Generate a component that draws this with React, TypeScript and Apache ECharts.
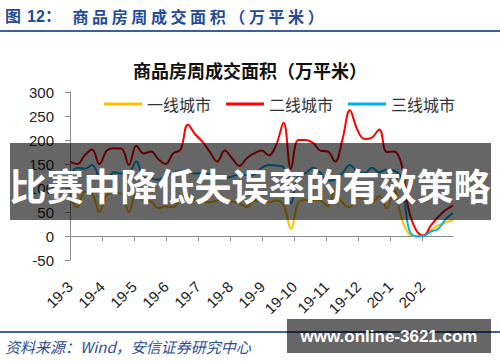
import { useEffect, useRef } from 'react';
import * as echarts from 'echarts';

const monthLabels = ['19-3', '19-4', '19-5', '19-6', '19-7', '19-8', '19-9', '19-10', '19-11', '19-12', '20-1', '20-2'];
const seriesNames = ['一线城市', '二线城市', '三线城市'];
const seriesColors = ['#FFC000', '#FF0000', '#00B0F0'];

// weekly transaction area (10k m2), one value per week from early Mar 2019
const tier1 = [78, 60, 92, 88, 50, 85, 90, 88, 50, 88, 76, 72, 58, 62, 60, 80, 85, 75, 72, 70, 74, 77, 72, 68, 60, 74, 72, 70, 74, 64, 15, 70, 75, 75, 74, 62, 94, 69, 60, 80, 75, 70, 84, 58, 95, 38, 5, 0, 1, 12, 22, 28, 33];
const tier2 = [155, 150, 168, 180, 150, 178, 183, 182, 148, 188, 172, 176, 160, 150, 172, 180, 232, 212, 196, 175, 155, 178, 162, 146, 162, 172, 178, 168, 190, 236, 140, 200, 200, 194, 178, 176, 155, 202, 262, 222, 202, 205, 222, 175, 176, 150, 54, 12, 1, 22, 40, 54, 64];
const tier3 = [125, 142, 140, 148, 125, 122, 133, 130, 132, 155, 122, 120, 117, 125, 131, 135, 133, 130, 131, 128, 118, 120, 124, 128, 127, 128, 142, 148, 147, 143, 68, 125, 131, 142, 131, 115, 118, 131, 148, 134, 131, 142, 133, 138, 136, 120, 15, -1, 0, 9, 15, 35, 48];

const headerPrefix = [
  { t: '图', x: 5 },
  { t: '12', x: 27 },
  { t: '：', x: 45 },
];
const headerMain = '商品房周成交面积（万平米）';
const chartTitle = '商品房周成交面积（万平米）';
const footerText = '资料来源：Wind，安信证券研究中心';
const bannerText = '比赛中降低失误率的有效策略';
const watermarkText = 'www.online-3621.com';

const WEEKS_PER_MONTH = 30.44 / 7;
const LATIN = "'Liberation Sans', Arial, 'Noto Sans CJK SC', sans-serif";
const CJK = "'Noto Sans CJK SC', 'Liberation Sans', sans-serif";

export default function App() {
  const ref = useRef<HTMLDivElement>(null);
  useEffect(() => {
    const chart = echarts.init(ref.current!, null, { renderer: 'svg' });
    const lastIdx = tier1.length - 1;
    const tickVals = monthLabels.map((_, k) => k * WEEKS_PER_MONTH);
    const toPairs = (arr: number[]) => arr.map((v, i) => [i, v]);
    const dataSets = [tier1, tier2, tier3];

    const headerBlue = '#244A9A';
    const graphics: any[] = [];
    headerPrefix.forEach((h) => {
      graphics.push({
        type: 'text', z: 100, x: h.x, y: 16,
        style: { text: h.t, fill: headerBlue, font: `bold 16px ${LATIN}`, verticalAlign: 'middle' },
      });
    });
    headerMain.split('').forEach((ch, k) => {
      graphics.push({
        type: 'text', z: 100, x: 72.5 + k * 19.6, y: 16,
        style: { text: ch, fill: headerBlue, font: `bold 16px ${CJK}`, verticalAlign: 'middle' },
      });
    });
    graphics.push(
      { type: 'line', z: 100, shape: { x1: 0, y1: 31, x2: 500, y2: 31 }, style: { stroke: '#3F5E9E', lineWidth: 2 } },
      { type: 'line', z: 100, shape: { x1: 0, y1: 332, x2: 500, y2: 332 }, style: { stroke: '#3F5E9E', lineWidth: 2 } },
      {
        type: 'text', z: 100, x: 5, y: 346,
        style: { text: footerText, fill: '#2E4D96', font: `italic 15px ${CJK}`, verticalAlign: 'middle' },
      },
      { type: 'rect', z: 100, shape: { x: 10, y: 143, width: 481, height: 77 }, style: { fill: 'rgba(0,0,0,0.6)' } },
      {
        type: 'text', z: 101, x: 250, y: 185,
        style: { text: bannerText, fill: '#ffffff', font: `bold 37px ${CJK}`, align: 'center', verticalAlign: 'middle' },
      },
      { type: 'rect', z: 100, shape: { x: 287, y: 319, width: 204, height: 34 }, style: { fill: 'rgba(0,0,0,0.6)' } },
      {
        type: 'text', z: 101, x: 389, y: 336,
        style: { text: watermarkText, fill: '#ffffff', font: `bold 17px ${LATIN}`, align: 'center', verticalAlign: 'middle' },
      },
    );

    chart.setOption({
      animation: false,
      backgroundColor: '#ffffff',
      title: {
        text: chartTitle, left: 'center', top: 56,
        textStyle: { fontSize: 18, fontWeight: 'bold', color: '#111', fontFamily: CJK },
      },
      legend: {
        data: seriesNames, left: 99, top: 91, icon: 'rect', itemWidth: 38, itemHeight: 3, itemGap: 15,
        textStyle: { fontSize: 16, color: '#333', fontFamily: CJK },
      },
      grid: { left: 70, right: 47, top: 92, bottom: 102, containLabel: false },
      xAxis: [
        {
          type: 'value', min: 0, max: lastIdx, position: 'top',
          axisLine: { show: true, onZero: true, lineStyle: { color: '#8c8c8c', width: 1 } },
          axisTick: { show: true, inside: true, length: 5, customValues: tickVals, lineStyle: { color: '#8c8c8c' } },
          axisLabel: { show: false },
          splitLine: { show: false },
        },
        {
          type: 'value', min: 0, max: lastIdx, position: 'bottom',
          axisLine: { show: false, onZero: false },
          axisTick: { show: false },
          axisLabel: {
            show: true, customValues: tickVals, rotate: 45, margin: 24, fontSize: 15, color: '#222', fontFamily: LATIN,
            formatter: (v: number) => monthLabels[Math.round(v / WEEKS_PER_MONTH)] ?? '',
          },
          splitLine: { show: false },
        },
      ],
      yAxis: {
        type: 'value', min: -50, max: 300, interval: 50,
        axisLine: { show: true, lineStyle: { color: '#8c8c8c', width: 1 } },
        axisTick: { show: true, length: 5, lineStyle: { color: '#8c8c8c' } },
        axisLabel: { fontSize: 15, color: '#222', margin: 16, fontFamily: LATIN },
        splitLine: { show: false },
      },
      series: seriesNames.map((name, k) => ({
        name, type: 'line', xAxisIndex: 0, smooth: 0.4, showSymbol: false, symbol: 'none',
        data: toPairs(dataSets[k]),
        lineStyle: { width: 2, color: seriesColors[k] },
        itemStyle: { color: seriesColors[k] },
      })),
      graphic: { elements: graphics },
    });
    return () => chart.dispose();
  }, []);
  return <div ref={ref} style={{ position: 'absolute', left: 0, top: 0, width: 500, height: 362, background: '#fff' }} />;
}
